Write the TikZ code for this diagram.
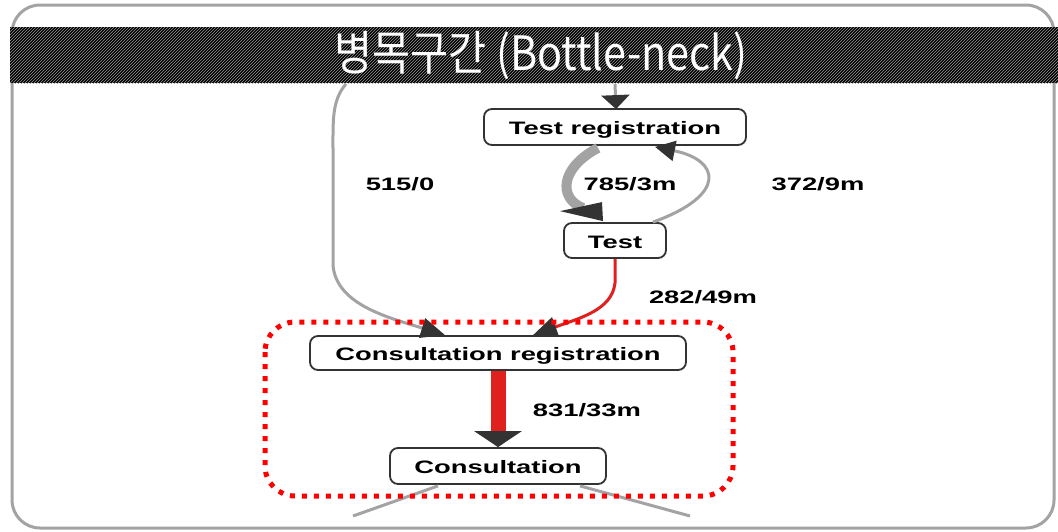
\documentclass[tikz,border=0pt]{standalone}
\usepackage{fontspec}
\usepackage{graphicx}
\setmainfont{Liberation Sans}
\newfontfamily\krfont{Noto Sans CJK KR}
\usetikzlibrary{arrows.meta,calc,patterns}
\definecolor{edgegray}{HTML}{A3A3A3}
\definecolor{tipdark}{HTML}{333333}
\definecolor{edgered}{HTML}{E01F1F}
\newcommand\wide[1]{\scalebox{1.52}[1]{#1}}
\tikzset{
  box/.style={draw=black!80, line width=1.8pt, rounded corners=8pt, fill=white,
    inner sep=0pt, text height=15pt, text depth=0pt, font=\bfseries\fontsize{18}{18}\selectfont},
  lbl/.style={font=\bfseries\fontsize{18}{18}\selectfont, inner sep=0pt},
  grayedge/.style={draw=edgegray, line width=3pt},
  slanttip/.style={-{Triangle[length=24pt,width=20pt,color=tipdark]}},
  downtip/.style={-{Triangle[length=14pt,width=28pt,color=tipdark]}},
}
\begin{document}
\begin{tikzpicture}[x=1pt,y=-1pt]
\useasboundingbox (0,0) rectangle (1058,531);
\fill[white] (0,0) rectangle (1058,531);
% outer frame
\draw[edgegray, line width=3pt, rounded corners=28pt] (12,5) rectangle (1054,528);
% title band
\fill[black] (10,27) rectangle (1058,83);
\fill[pattern=north east lines, pattern color=gray!80] (10,27) rectangle (1058,83);
\node[text=white, inner sep=0pt] (title) at (541,56)
  {\scalebox{0.9}[1.03]{\krfont\fontsize{46}{46}\selectfont 병목구간 (Bottle-neck)}};

% nodes
\node[box, minimum width=262pt, minimum height=36pt] (tr) at (615,127) {\wide{Test registration}};
\node[box, minimum width=102pt, minimum height=35pt] (t) at (615,240.5) {\wide{Test}};
\node[box, minimum width=376pt, minimum height=34pt] (cr) at (498,353) {\wide{Consultation registration}};
\node[box, minimum width=216pt, minimum height=36pt] (c) at (498,466) {\wide{Consultation}};

% free ends
\coordinate (topin) at (615,84);
\coordinate (leftin) at (346,84);
\coordinate (outl) at (353,516);
\coordinate (outr) at (690,516);

% edges
\draw[grayedge, downtip, shorten >=-1pt] (topin) -- ($(tr.north)+(1,0)$);
\draw[grayedge, slanttip] (leftin) .. controls (332,100) and (333,120) .. (333,150)
  -- (333,265) .. controls (336,305) and (390,318) .. ($(cr.north)+(-53,0)$);
% thick gray edge: Test registration -> Test
\draw[draw=edgegray, line width=10pt]
  ($(tr.south)+(-17,2)$) .. controls (560,168) and (558,198) .. ($(t.north)+(-32,-14)$);
\fill[tipdark] ($(t.north)+(-55,-11)$) -- ($(t.north)+(-13,-20)$) -- ($(t.north)+(-12,-1)$) -- cycle;
\draw[grayedge, -{Triangle[length=20pt,width=20pt,color=tipdark]}]
  ($(t.north)+(38,0)$) .. controls (728,195) and (720,160) .. ($(tr.south)+(40,1)$);
\draw[draw=edgered, line width=3pt, slanttip] (t.south) -- (615,283)
  .. controls (612,310) and (580,318) .. ($(cr.north)+(35,0)$);
\draw[draw=edgered, line width=15pt, -{Triangle[length=16pt,width=47pt,color=tipdark]}]
  (cr.south) -- (c.north);
\draw[grayedge] ($(c.south)+(-60,1)$) -- (outl);
\draw[grayedge] ($(c.south)+(82,1)$) -- (outr);

% labels
\node[lbl] (l1) at (400,184) {\wide{515/0}};
\node[lbl] (l2) at (630,184) {\wide{785/3m}};
\node[lbl] (l3) at (818,184) {\wide{372/9m}};
\node[lbl] (l4) at (703,297) {\wide{282/49m}};
\node[lbl] (l5) at (587,410) {\wide{831/33m}};

% bottleneck highlight
\draw[red, line width=5pt, dash pattern=on 5pt off 7pt, rounded corners=30pt]
  (265,322) rectangle (733,496);
\end{tikzpicture}
\end{document}
